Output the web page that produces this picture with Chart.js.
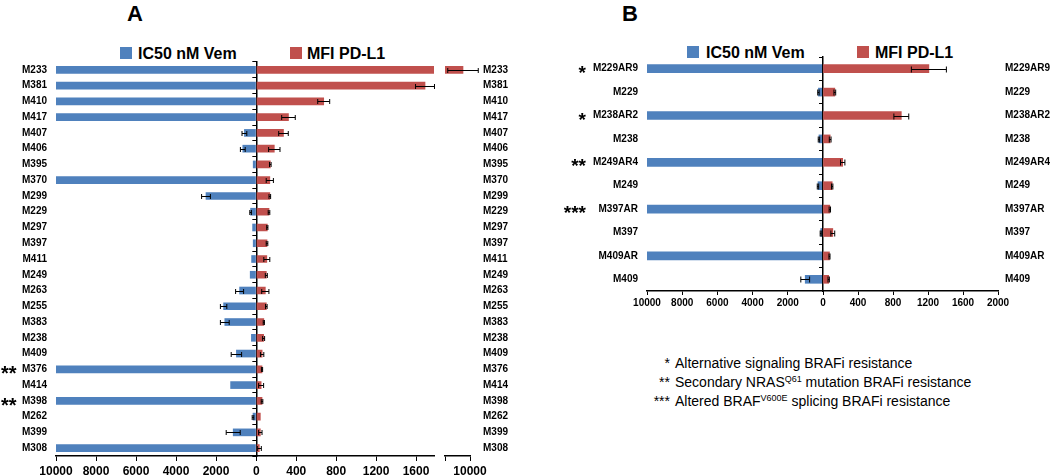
<!DOCTYPE html>
<html>
<head>
<meta charset="utf-8">
<script src="https://cdn.jsdelivr.net/npm/chart.js@4.4.0/dist/chart.umd.min.js"></script>
<style>
  body { margin: 0; background: #fff; width: 1050px; height: 476px; overflow: hidden; position: relative;
         font-family: "Liberation Sans", Arial, sans-serif; color: #000; }
  canvas { position: absolute; top: 0; }
  .t { position: absolute; white-space: nowrap; line-height: 1; }
  .sq { position: absolute; width: 12px; height: 12px; }
  .lg { font-size: 16px; font-weight: bold; }
  .note { position: absolute; left: 620px; top: 354px; font-size: 14px; line-height: 19px; }
  .note div { white-space: nowrap; }
  .note .s { display: inline-block; width: 50px; text-align: right; margin-right: 5px; }
  .note sup { font-size: 9px; line-height: 0; vertical-align: 5px; }
</style>
</head>
<body>
<div class="t" style="left:127px;top:3px;font-size:22px;font-weight:bold">A</div>
<div class="t" style="left:622px;top:3px;font-size:22px;font-weight:bold">B</div>

<div class="sq" style="left:120px;top:47px;background:#4F81BD"></div>
<div class="t lg" style="left:138px;top:46px">IC50 nM Vem</div>
<div class="sq" style="left:290px;top:47px;background:#C0504D"></div>
<div class="t lg" style="left:307px;top:46px">MFI PD-L1</div>

<div class="sq" style="left:687px;top:46px;background:#4F81BD"></div>
<div class="t lg" style="left:706px;top:45px">IC50 nM Vem</div>
<div class="sq" style="left:857px;top:46px;background:#C0504D"></div>
<div class="t lg" style="left:875px;top:45px">MFI PD-L1</div>

<canvas id="aLeft" width="270" height="476" style="left:0px"></canvas>
<canvas id="aRight" width="200" height="476" style="left:250px"></canvas>
<canvas id="aBreak" width="100" height="476" style="left:435px"></canvas>
<canvas id="bLeft" width="277" height="320" style="left:560px"></canvas>
<canvas id="bRight" width="233" height="320" style="left:817px"></canvas>

<div class="note">
  <div><span class="s">*</span>Alternative signaling BRAFi resistance</div>
  <div><span class="s">**</span>Secondary NRAS<sup>Q61</sup> mutation BRAFi resistance</div>
  <div><span class="s">***</span>Altered BRAF<sup>V600E</sup> splicing BRAFi resistance</div>
</div>

<script>
// panel A
const linesA = ['M233','M381','M410','M417','M407','M406','M395','M370','M299','M229','M297','M397','M411',
                'M249','M263','M255','M383','M238','M409','M376','M414','M398','M262','M399','M308'];
const ic50A    = [10000,10000,10000,10000,580,660,140,10000,2500,270,170,140,220,290,820,1620,1560,230,980,10000,1270,10000,150,1140,10000];
const ic50ErrA = [0,0,0,0,120,120,0,0,220,40,0,0,0,0,200,160,220,0,260,0,0,0,40,350,0];
const mfiA     = [9720,1690,675,322,272,180,140,135,135,127,110,107,105,100,90,100,75,73,58,57,48,57,40,40,30];
const mfiErrA  = [610,95,60,68,48,57,8,36,8,8,6,8,30,10,36,8,6,10,17,6,25,8,0,17,20];
const starsA = { M376: '**', M398: '**' };

// panel B
const linesB = ['M229AR9','M229','M238AR2','M238','M249AR4','M249','M397AR','M397','M409AR','M409'];
const ic50B    = [10000,260,10000,230,10000,285,10000,130,10000,1010];
const ic50ErrB = [0,40,0,40,0,40,0,30,0,250];
const mfiB     = [1210,135,895,82,225,105,78,112,74,65];
const mfiErrB  = [200,10,85,10,25,8,8,22,6,8];
const starsB = { M229AR9: '*', M238AR2: '*', M249AR4: '**', M397AR: '***' };

const BLUE = '#4F81BD', RED = '#C0504D';
const FONT = '"Liberation Sans", Arial, sans-serif';

// error bars drawn on the value scale of each dataset
const errorBars = {
  id: 'errorBars',
  afterDatasetsDraw(chart) {
    const ctx = chart.ctx;
    chart.data.datasets.forEach((ds, i) => {
      if (!ds.errors) return;
      const meta = chart.getDatasetMeta(i);
      const xs = chart.scales[meta.xAxisID];
      meta.data.forEach((bar, j) => {
        const v = ds.data[j], e = ds.errors[j];
        if (v == null || !e || v > xs.max || v < xs.min) return;
        const x1 = xs.getPixelForValue(v - e), x2 = xs.getPixelForValue(v + e);
        const y = Math.round(bar.y) + 0.5, h = ds.cap || 2.5;
        ctx.save();
        ctx.strokeStyle = '#000';
        ctx.lineWidth = 1;
        ctx.beginPath();
        ctx.moveTo(x1, y); ctx.lineTo(x2, y);
        ctx.moveTo(x1, y - h); ctx.lineTo(x1, y + h);
        ctx.moveTo(x2, y - h); ctx.lineTo(x2, y + h);
        ctx.stroke();
        ctx.restore();
      });
    });
  }
};

// asterisks next to the row labels
const starMarks = {
  id: 'starMarks',
  afterDraw(chart, args, o) {
    if (!o.marks) return;
    const ys = chart.scales.y, ctx = chart.ctx;
    ctx.save();
    ctx.font = o.font;
    ctx.fillStyle = '#000';
    ctx.textAlign = o.align;
    ctx.textBaseline = 'alphabetic';
    chart.data.labels.forEach((lab, i) => {
      if (o.marks[lab]) ctx.fillText(o.marks[lab], o.x, ys.getPixelForValue(i) + o.dy);
    });
    ctx.restore();
  }
};

const fixW = w => s => { s.width = w; };
const fixH = h => s => { s.height = h; };

function labelAxis(pos, width, pad) {
  return {
    type: 'category', position: pos, offset: true, afterFit: fixW(width),
    grid: { display: false, drawTicks: false, offset: true },
    border: { display: false },
    ticks: { color: '#000', font: { family: FONT, size: 10, weight: 'bold' }, padding: pad, autoSkip: false }
  };
}

function centreAxis() {
  return {
    type: 'category', position: 'left', offset: true, afterFit: fixW(6),
    grid: { drawOnChartArea: false, drawTicks: true, tickLength: 4, color: '#000', offset: true },
    border: { display: true, color: '#000', width: 1.5 },
    ticks: { display: false }
  };
}

function tickOpts(step, size, pad, cb) {
  return { stepSize: step, includeBounds: false, color: '#000', padding: pad, autoSkip: false,
           maxRotation: 0, minRotation: 0,
           font: { family: FONT, size: size, weight: 'bold' }, callback: cb || (v => String(v)) };
}

function valueAxis(min, max, tickLen, ticks, reverse) {
  return {
    type: 'linear', position: 'bottom', min: min, max: max, reverse: !!reverse, afterFit: fixH(20),
    grid: { drawOnChartArea: false, drawTicks: true, tickLength: tickLen, color: '#000' },
    border: { display: true, color: '#000', width: 1.5 },
    ticks: ticks
  };
}

function makeChart(id, labels, values, errs, color, thick, padding, scales, stars) {
  return new Chart(document.getElementById(id), {
    type: 'bar',
    data: {
      labels: labels,
      datasets: [{
        data: values, errors: errs, backgroundColor: color, borderWidth: 0,
        barThickness: thick, clip: 0, cap: thick === 7 ? 2.5 : 3
      }]
    },
    options: {
      indexAxis: 'y',
      responsive: false,
      animation: false,
      devicePixelRatio: 1,
      layout: { padding: padding },
      scales: scales,
      plugins: {
        legend: { display: false },
        tooltip: { enabled: false },
        starMarks: stars || {}
      }
    },
    plugins: [errorBars, starMarks]
  });
}

// A: IC50 side
makeChart('aLeft', linesA, ic50A, ic50ErrA, BLUE, 7,
  { top: 62, right: 14, bottom: 0, left: 0 },
  { y: labelAxis('left', 56, 9),
    x: valueAxis(0, 10000, 5, tickOpts(2000, 12, 3, v => v === 0 ? '' : String(v)), true) },
  { marks: starsA, x: 1, dy: 11, align: 'left', font: 'bold 20px ' + FONT });

// A: MFI side
makeChart('aRight', linesA, mfiA, mfiErrA, RED, 7,
  { top: 62, right: 16, bottom: 0, left: 0 },
  { y: centreAxis(), x: valueAxis(0, 1780, 5, tickOpts(400, 12, 3)) });

// A: broken part of the MFI axis
makeChart('aBreak', linesA, mfiA, mfiErrA, RED, 7,
  { top: 62, right: 0, bottom: 0, left: 10 },
  { y: labelAxis('right', 65, 13),
    x: valueAxis(9000, 10000, 5, tickOpts(1000, 12, 3, v => v === 10000 ? '10000' : '')) });

// B: IC50 side
makeChart('bLeft', linesB, ic50B, ic50ErrB, BLUE, 8,
  { top: 57, right: 14, bottom: 9, left: 0 },
  { y: labelAxis('left', 87, 9),
    x: valueAxis(0, 10000, 4, tickOpts(2000, 10, 2, v => v === 0 ? '' : String(v)), true) },
  { marks: starsB, x: 26, dy: 10, align: 'right', font: 'bold 19px ' + FONT });

// B: MFI side
makeChart('bRight', linesB, mfiB, mfiErrB, RED, 8,
  { top: 57, right: 0, bottom: 9, left: 0 },
  { y: centreAxis(), y2: labelAxis('right', 52, 7),
    x: valueAxis(0, 2000, 4, tickOpts(400, 10, 2)) });
</script>
</body>
</html>
